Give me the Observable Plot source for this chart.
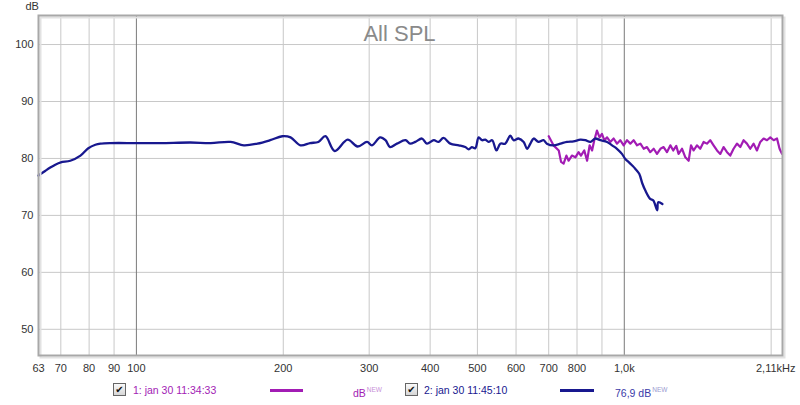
<!DOCTYPE html>
<html><head><meta charset="utf-8">
<script src="https://cdn.jsdelivr.net/npm/d3@7"></script>
<script src="https://cdn.jsdelivr.net/npm/@observablehq/plot@0.6"></script>
<style>
body{margin:0;background:#fff;font-family:"Liberation Sans",Arial,sans-serif;}
#wrap{position:relative;width:800px;height:405px;overflow:hidden;}
#legend{position:absolute;left:0;top:0;width:800px;height:405px;font-size:10.5px;pointer-events:none;}
#legend .it{position:absolute;top:384px;line-height:12px;white-space:nowrap;}
#legend .cb{position:absolute;top:383px;width:11px;height:11px;border:1px solid #666;background:linear-gradient(#fafafa,#d6d6d6);font-size:10px;line-height:11px;text-align:center;color:#111;font-family:"DejaVu Sans",sans-serif;}
#legend .ln{position:absolute;top:389px;height:2.5px;}
#legend sup{font-size:6.5px;vertical-align:5px;margin-left:1px;}
</style></head><body>
<div id="wrap"><div id="chart"></div><div id="legend"></div></div>
<script>
// Measurement 2 (blue)
const blueFreq = [63,65,66.6,68.2,70,73.2,76.8,79.7,82.4,84.4,88.5,100,112,129,142,156,166,177,188,199,207,217,227,236,244,255,271,284,297,304,
  316,324,331,342,356,364,373,385,394,407,416,426,440,458,472,480,487,495,503,511,519,527,536,547,557,570,584,593,607,622,632,642,652,667,683,694,716,740,763,787,813,832,852,872,893,922,944,966,989,1005,1020,1037,1053,1073,1089,1104,1130,1147,1168,1174,1197];
const blueDb = [77.0,77.8,78.4,78.9,79.3,79.6,80.5,81.8,82.4,82.6,82.7,82.7,82.7,82.8,82.7,82.9,82.3,82.6,83.2,83.9,83.7,82.3,82.7,82.9,83.9,81.3,83.3,82.1,82.9,82.3,
  83.7,83.2,82.0,82.6,83.2,82.6,82.9,83.5,82.6,83.2,82.9,83.6,82.6,82.3,82.0,81.6,82.0,81.8,83.7,83.2,83.3,82.9,83.2,81.4,82.6,82.6,84.0,83.2,83.5,82.9,81.7,82.6,83.5,82.9,83.2,82.6,82.3,82.6,82.9,83.0,83.3,83.2,82.9,83.5,83.2,82.9,82.3,81.7,80.8,79.9,79.4,78.8,78.2,77.3,75.6,74.4,72.9,72.6,70.9,72.3,72.0];
// Measurement 1 (purple)
const purpleFreq = [700,716,734,742,751,761,769,781,794,806,815,828,839,849,859,868,879,890,900,910,922,936,951,966,981,997,1013,1029,1045,1062,1079,1096,1113,1130,1149,1167,1186,1204,1223,1243,1260,1278,1292,1313,1334,1355,1370,1387,1409,1431,1454,1477,1500,1524,1549,1573,1598,1624,1649,1675,1702,1729,1756,1784,1812,1841,1870,1900,1930,1961,1992,2024,2056,2081,2105];
const purpleDb = [83.9,82.3,81.4,79.4,79.1,80.5,79.6,80.5,80.2,81.1,80.5,81.4,79.6,82.3,81.4,83.2,84.9,83.7,84.3,83.2,83.7,82.9,83.5,82.6,83.2,82.3,83.2,82.6,83.2,82.3,82.6,81.7,82.0,81.1,81.7,80.8,81.7,82.0,81.1,82.3,81.4,82.2,80.8,81.7,80.2,79.6,82.3,81.4,82.3,81.7,82.9,82.6,83.2,82.3,81.4,80.8,82.0,81.1,80.5,81.7,82.6,82.0,83.2,82.6,81.7,82.6,81.4,82.9,83.5,83.2,83.7,83.2,83.5,81.7,80.8];

const xTicks = [63,70,80,90,100,200,300,400,500,600,700,800,1000,2110];
const xTickLabels = ["63","70","80","90","100","200","300","400","500","600","700","800","1,0k","2,11kHz"];
const minorGridX = [70,80,90,200,300,400,500,600,700,800,900,2000];
const majorGridX = [100,1000];
const yTicks = [50,60,70,80,90,100];

const blueColor = "#18188f";
const purpleColor = "#a21cb4";

const blue = blueFreq.map((f,i)=>({f, db: blueDb[i]}));
const purple = purpleFreq.map((f,i)=>({f, db: purpleDb[i]}));
const xLab = xTicks.map((v,i)=>({v, label: xTickLabels[i]}));
const xLabMain = xLab.slice(0, -1);
const xLabEnd = xLab.slice(-1);

const chart = Plot.plot({
  width: 800, height: 378,
  marginLeft: 38, marginRight: 18, marginTop: 15, marginBottom: 23,
  style: {fontFamily: '"Liberation Sans", Arial, sans-serif', fontSize: "11px", color: "#333", background: "#fff", overflow: "visible"},
  x: {type: "log", domain: [63, 2110], axis: null},
  y: {domain: [45.4, 105.1]},
  marks: [
    Plot.ruleX(minorGridX, {stroke: "#c8c8c8", strokeWidth: 1}),
    Plot.ruleY(yTicks, {stroke: "#c8c8c8", strokeWidth: 1}),
    Plot.ruleX(majorGridX, {stroke: "#7a7a7a", strokeWidth: 1}),
    Plot.text(["All SPL"], {frameAnchor: "top", dx: -11, dy: 18, lineAnchor: "middle", fontSize: 22, fill: "#8a8a8a"}),
    Plot.line(purple, {x: "f", y: "db", stroke: purpleColor, strokeWidth: 2.2}),
    Plot.line(blue, {x: "f", y: "db", stroke: blueColor, strokeWidth: 2.3, curve: "catmull-rom"}),
    Plot.frame({stroke: "#e2e2e2", strokeWidth: 2, dx: 2, dy: 2}),
    Plot.frame({stroke: "#a8a8a8", strokeWidth: 2}),
    Plot.text(xLabMain, {x: "v", text: "label", frameAnchor: "bottom", dy: 13, lineAnchor: "middle", fill: "#333"}),
    Plot.text(xLabEnd, {x: "v", text: "label", frameAnchor: "bottom", dy: 13, dx: 13, textAnchor: "end", lineAnchor: "middle", fill: "#333"}),
    Plot.axisY({ticks: yTicks, tickSize: 0, tickPadding: 5, label: null}),
    Plot.text(["dB"], {frameAnchor: "top-left", dx: -13, dy: -9, lineAnchor: "middle", fontSize: 11, fill: "#333"})
  ]
});
document.getElementById("chart").appendChild(chart);

// Legend
const legendItems = [
  {type: "cb", left: 113},
  {type: "it", left: 133, text: "1: jan 30 11:34:33", color: purpleColor},
  {type: "ln", left: 270, width: 33, color: purpleColor},
  {type: "it", left: 353, text: "dB", sup: "NEW", color: purpleColor, supColor: "#c890d8"},
  {type: "cb", left: 405},
  {type: "it", left: 424, text: "2: jan 30 11:45:10", color: blueColor},
  {type: "ln", left: 560, width: 34, color: blueColor},
  {type: "it", left: 615, text: "76,9 dB", sup: "NEW", color: "#3a3aa8", supColor: "#9a9ad0"}
];
const leg = d3.select("#legend");
for (const it of legendItems) {
  if (it.type === "cb") {
    leg.append("div").attr("class","cb").style("left", it.left+"px").text("\u2714");
  } else if (it.type === "ln") {
    leg.append("div").attr("class","ln").style("left", it.left+"px").style("width", it.width+"px").style("background", it.color);
  } else {
    const s = leg.append("div").attr("class","it").style("left", it.left+"px").style("color", it.color).text(it.text);
    if (it.sup) s.append("sup").style("color", it.supColor).text(it.sup);
  }
}
</script>
</body></html>
